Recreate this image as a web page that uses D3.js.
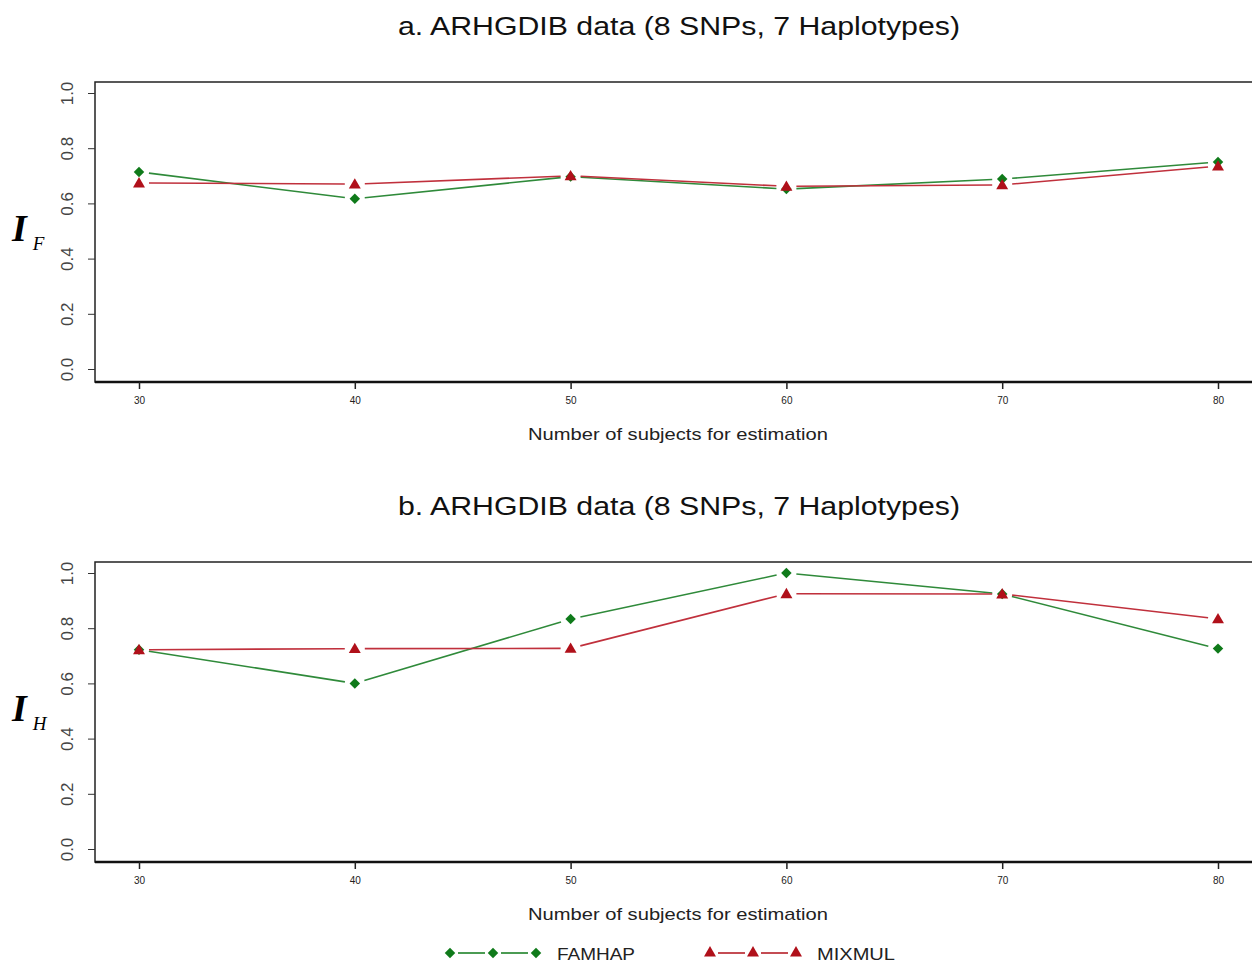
<!DOCTYPE html>
<html>
<head>
<meta charset="utf-8">
<script src="https://cdn.jsdelivr.net/npm/d3@7"></script>
<style>
  body { margin: 0; background: #fff; }
  svg { display: block; font-family: "Liberation Sans", Arial, sans-serif; }
</style>
</head>
<body>
<svg width="1252" height="966"></svg>
<script>
// subjects used for estimation (x axis)
const subjects = [30, 40, 50, 60, 70, 80];
const yTicks = [0, 0.2, 0.4, 0.6, 0.8, 1.0];

// panel a: I_F values
const famhapA = [0.714, 0.617, 0.697, 0.652, 0.688, 0.750];
const mixmulA = [0.674, 0.670, 0.700, 0.662, 0.667, 0.735];
// panel b: I_H values
const famhapB = [0.722, 0.600, 0.833, 1.000, 0.924, 0.726];
const mixmulB = [0.722, 0.726, 0.727, 0.925, 0.924, 0.834];

const panels = [
  {title: 'a. ARHGDIB data (8 SNPs, 7 Haplotypes)', sub: 'F', top: 82, fam: famhapA, mix: mixmulA},
  {title: 'b. ARHGDIB data (8 SNPs, 7 Haplotypes)', sub: 'H', top: 562, fam: famhapB, mix: mixmulB}
];

const green = '#0f7a1a', red = '#b0101a';
const greenLine = '#2f8a3a', redLine = '#c0303c';
const svg = d3.select('svg');

const x = d3.scaleLinear().domain([30, 80]).range([139, 1218]);

// line with small gaps around the points, like R type="b"
function gapSegments(g, vals, y, color) {
  const pts = subjects.map((s, i) => [x(s), y(vals[i])]);
  for (let i = 0; i < pts.length - 1; i++) {
    const [x1, y1] = pts[i], [x2, y2] = pts[i + 1];
    const len = Math.hypot(x2 - x1, y2 - y1), gap = 10;
    const ux = (x2 - x1) / len, uy = (y2 - y1) / len;
    g.append('line')
      .attr('x1', x1 + ux * gap).attr('y1', y1 + uy * gap)
      .attr('x2', x2 - ux * gap).attr('y2', y2 - uy * gap)
      .attr('stroke', color).attr('stroke-width', 1.6);
  }
}

const diamond = d3.symbol().type(d3.symbolDiamond2).size(70);
const triangle = d3.symbol().type(d3.symbolTriangle).size(62);

panels.forEach(p => {
  const bottom = p.top + 300;
  const y = d3.scaleLinear().domain([0, 1]).range([p.top + 287, p.top + 11]);
  const g = svg.append('g');

  g.append('text').attr('x', 679).attr('y', p.top - 47)
    .attr('text-anchor', 'middle').attr('font-size', 25).attr('fill', '#111')
    .attr('textLength', 562).attr('lengthAdjust', 'spacingAndGlyphs')
    .text(p.title);

  // frame
  g.append('path')
    .attr('d', `M1260,${p.top}H95V${bottom}H1260`)
    .attr('fill', 'none').attr('stroke', '#222').attr('stroke-width', 1.5);
  g.append('line').attr('x1', 95).attr('x2', 1260).attr('y1', bottom).attr('y2', bottom)
    .attr('stroke', '#111').attr('stroke-width', 2.5);

  // y axis
  const ya = g.append('g').attr('transform', 'translate(95,0)')
    .call(d3.axisLeft(y).tickValues(yTicks).tickFormat(d3.format('.1f')).tickSize(7));
  ya.select('.domain').remove();
  ya.selectAll('line').attr('stroke', '#333');
  ya.selectAll('text')
    .attr('font-size', 17).attr('fill', '#444')
    .attr('text-anchor', 'middle').attr('dy', null)
    .attr('transform', 'rotate(-90)')
    .attr('x', 0).attr('y', -22);

  // x axis
  const xa = g.append('g').attr('transform', `translate(0,${bottom})`)
    .call(d3.axisBottom(x).tickValues(subjects).tickSize(7).tickPadding(8));
  xa.select('.domain').remove();
  xa.selectAll('line').attr('stroke', '#222').attr('stroke-width', 1.5);
  xa.selectAll('text').attr('font-size', 10).attr('fill', '#222');

  g.append('text').attr('x', 678).attr('y', bottom + 58)
    .attr('text-anchor', 'middle').attr('font-size', 17).attr('fill', '#222')
    .attr('textLength', 300).attr('lengthAdjust', 'spacingAndGlyphs')
    .text('Number of subjects for estimation');

  // y label
  const lab = g.append('text').attr('x', 12).attr('y', y(0.5) + 10)
    .attr('font-family', '"Liberation Serif", "Times New Roman", serif');
  lab.append('tspan').attr('font-size', 38).attr('font-style', 'italic').attr('font-weight', 'bold').text('I');
  lab.append('tspan').attr('font-size', 19).attr('font-style', 'italic').attr('dx', 6).attr('dy', 9).text(p.sub);

  gapSegments(g, p.fam, y, greenLine);
  gapSegments(g, p.mix, y, redLine);

  g.selectAll('.fam').data(p.fam).enter().append('path')
    .attr('d', diamond).attr('fill', green)
    .attr('transform', (d, i) => `translate(${x(subjects[i])},${y(d)})`);
  g.selectAll('.mix').data(p.mix).enter().append('path')
    .attr('d', triangle).attr('fill', red)
    .attr('transform', (d, i) => `translate(${x(subjects[i])},${y(d) + 1})`);
});

// legend
const legend = [
  {name: 'FAMHAP', color: green, sym: diamond, x0: 450},
  {name: 'MIXMUL', color: red, sym: triangle, x0: 710}
];
legend.forEach(l => {
  const lg = svg.append('g');
  const ly = 953;
  [0, 1].forEach(k => {
    lg.append('line').attr('x1', l.x0 + k * 43 + 8).attr('x2', l.x0 + k * 43 + 35)
      .attr('y1', ly).attr('y2', ly).attr('stroke', l.color).attr('stroke-width', 1.5);
  });
  [0, 1, 2].forEach(k => {
    lg.append('path').attr('d', l.sym).attr('fill', l.color)
      .attr('transform', `translate(${l.x0 + k * 43},${ly})`);
  });
  lg.append('text').attr('x', l.x0 + 107).attr('y', ly + 7)
    .attr('font-size', 17).attr('fill', '#222')
    .attr('textLength', 78).attr('lengthAdjust', 'spacingAndGlyphs')
    .text(l.name);
});
</script>
</body>
</html>
